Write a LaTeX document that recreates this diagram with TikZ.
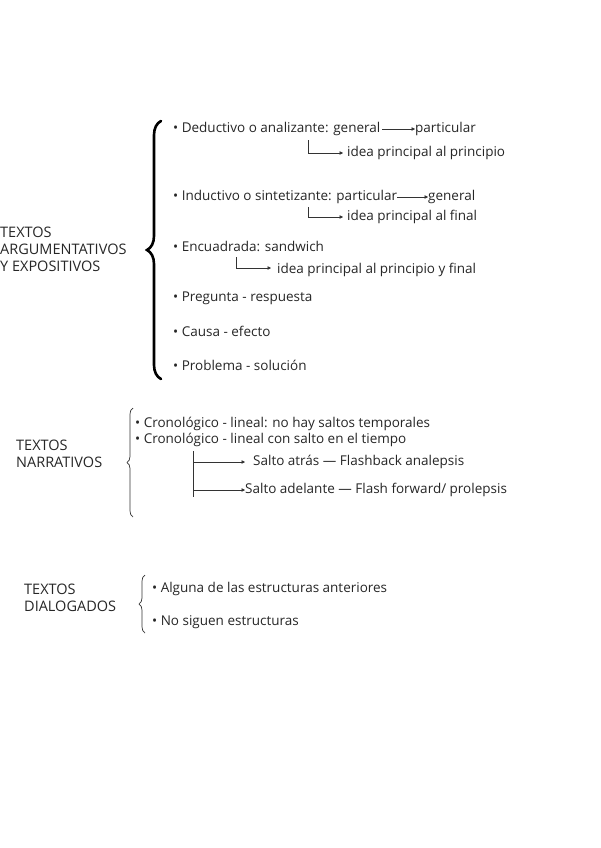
\documentclass[tikz,border=0pt]{standalone}
\usepackage{fontspec}
\setmainfont{Open Sans}
\usetikzlibrary{arrows.meta,decorations.pathreplacing,calc}

\tikzset{
  item/.style={anchor=west, inner sep=0pt, font=\fontsize{13.5}{16}\selectfont, text=black!85},
  title/.style={anchor=west, inner sep=0pt, align=left, font=\fontsize{14.5}{17}\selectfont, text=black!85},
  arr/.style={-{Triangle[length=3.5pt,width=3.5pt]}, black!80, line width=0.6pt},
  bigbrace/.style={decorate, decoration={brace, amplitude=14pt}, line width=2.6pt, line cap=round},
  thinbrace/.style={decorate, decoration={brace, amplitude=6pt}, line width=0.7pt, black!80}
}

\begin{document}
\begin{tikzpicture}[x=1pt, y=-1pt]
    \useasboundingbox (0,0) rectangle (600,848);

    % Argumentativos y expositivos
    \node[title] (arg) at (0,249) {TEXTOS\\ARGUMENTATIVOS\\Y EXPOSITIVOS};
    \draw[bigbrace] (161,379) -- (161,121);

    \node[item] (ded) at (173,129) {• Deductivo o analizante: general};
    \node[item] (part) at (415,129) {particular};
    \draw[arr] (ded.east) ++(2,0) -- (part.west);
    \coordinate (dedk) at (308,140);
    \node[item] (dedi) at (347,153) {idea principal al principio};
    \draw[arr] (dedk) |- ($(dedi.west)+(-4,0)$);

    \node[item] (ind) at (173,197) {• Inductivo o sintetizante: particular};
    \node[item] (gen) at (428,197) {general};
    \draw[arr] (ind.east) -- (gen.west);
    \coordinate (indk) at (308,207);
    \node[item] (indi) at (347,217) {idea principal al final};
    \draw[arr] (indk) |- ($(indi.west)+(-4,0)$);

    \node[item] (enc) at (173,246) {• Encuadrada: sandwich};
    \coordinate (enck) at (236,257);
    \node[item] (enci) at (277,270) {idea principal al principio y final};
    \draw[arr] (enck) |- ($(enci.west)+(-6,-2)$);

    \node[item] (pre) at (173,298) {• Pregunta - respuesta};
    \node[item] (cau) at (173,331) {• Causa - efecto};
    \node[item] (pro) at (173,365) {• Problema - solución};

    % Narrativos
    \node[title] (nar) at (16,454) {TEXTOS\\NARRATIVOS};
    \draw[thinbrace] (133,517) -- (133,408);
    \node[item] (cr1) at (135,424) {• Cronológico - lineal: no hay saltos temporales};
    \node[item] (cr2) at (135,440) {• Cronológico - lineal con salto en el tiempo};
    \coordinate (vtop) at (193,451);
    \coordinate (vbot) at (193,497);
    \draw[black!80, line width=0.6pt] (vtop) -- (vbot);
    \node[item] (atr) at (253,462) {Salto atrás — Flashback analepsis};
    \node[item] (ade) at (245,490) {Salto adelante — Flash forward/ prolepsis};
    \draw[arr] (193,462) -- ($(atr.west)+(-8,0)$);
    \draw[arr] (193,490) -- (ade.west);

    % Dialogados
    \node[title] (dia) at (24,598) {TEXTOS\\DIALOGADOS};
    \draw[thinbrace] (145,633) -- (145,575);
    \node[item] (alg) at (152,589) {• Alguna de las estructuras anteriores};
    \node[item] (nos) at (152,622) {• No siguen estructuras};
\end{tikzpicture}
\end{document}
